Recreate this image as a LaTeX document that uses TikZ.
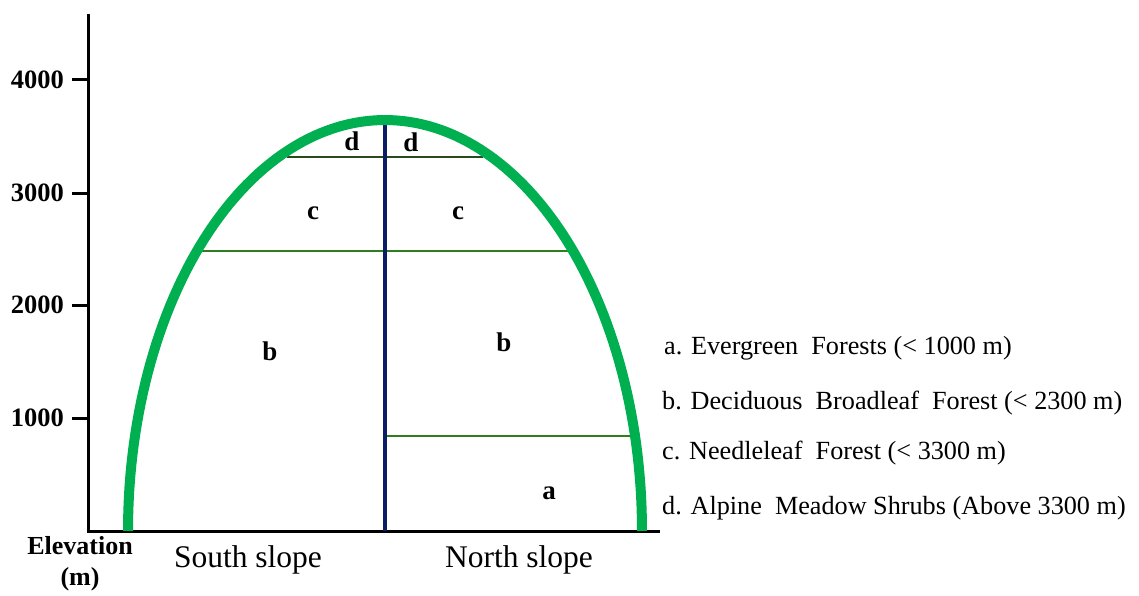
\documentclass[tikz,border=0pt]{standalone}
\usepackage{fontspec}
\setmainfont{Liberation Serif}
\definecolor{archgreen}{RGB}{0,176,80}
\definecolor{linegreen}{RGB}{46,125,30}
\definecolor{darkline}{RGB}{40,75,30}
\definecolor{slopeblue}{RGB}{10,30,100}
\begin{document}
\begin{tikzpicture}[x=1pt,y=-1pt,
  ticklab/.style={anchor=east,font=\fontsize{26.5}{28}\selectfont\bfseries,inner sep=0pt},
  zonelab/.style={font=\fontsize{27}{28}\selectfont\bfseries,inner sep=0pt},
  slopelab/.style={font=\fontsize{31.5}{33}\selectfont,inner sep=0pt},
  legend/.style={anchor=west,font=\fontsize{26.2}{28}\selectfont,inner sep=0pt},
  zoneline/.style={linegreen,line width=2.5pt}]
\useasboundingbox (0,0) rectangle (1139,596);
% axes
\coordinate (ytop) at (88,14);
\coordinate (origin) at (88,531);
\coordinate (xend) at (660,531);
\draw[line width=3pt] (ytop) -- (origin) -- (xend);
\foreach \v/\y in {4000/80,3000/193,2000/305,1000/418}{
  \draw[line width=3pt] (72,\y) -- (88,\y);
  \node[ticklab] (t\v) at (64,\y) {\v};
}
\node[font=\fontsize{26}{31}\selectfont\bfseries,align=center,inner sep=0pt] (elev) at (80,564) {Elevation\\(m)};
% zone lines
\draw[darkline,line width=2.5pt] (287,157) -- (483,157);
\draw[zoneline] (202,251) -- (570,251);
\draw[zoneline] (385,436) -- (630,436);
% middle line
\coordinate (mtop) at (385,122);
\coordinate (mbot) at (385,531);
\draw[slopeblue,line width=3.5pt] (mtop) -- (mbot);
% arch
\draw[archgreen,line width=10pt] plot[domain=180:360,samples=120] ({385+257*cos(\x)},{531+411*sin(\x)});
% zone labels
\node[zonelab] (d1) at (352,141) {d};
\node[zonelab] (d2) at (411,142) {d};
\node[zonelab] (c1) at (313,213) {c};
\node[zonelab] (c2) at (458,213) {c};
\node[zonelab] (b1) at (270,351) {b};
\node[zonelab] (b2) at (504,342) {b};
\node[zonelab] (a1) at (549,493) {a};
% slope labels
\node[slopelab] (south) at (248,560) {South slope};
\node[slopelab] (north) at (519,560) {North slope};
% legend
\node[legend] (la) at (664,348) {a. Evergreen\ \ Forests (< 1000 m)};
\node[legend] (lb) at (662,403) {b. Deciduous\ \ Broadleaf\ \ Forest (< 2300 m)};
\node[legend] (lc) at (662,453) {c. Needleleaf\ \ Forest (< 3300 m)};
\node[legend] (ld) at (662,508) {d. Alpine\ \ Meadow Shrubs (Above 3300 m)};
\end{tikzpicture}
\end{document}
